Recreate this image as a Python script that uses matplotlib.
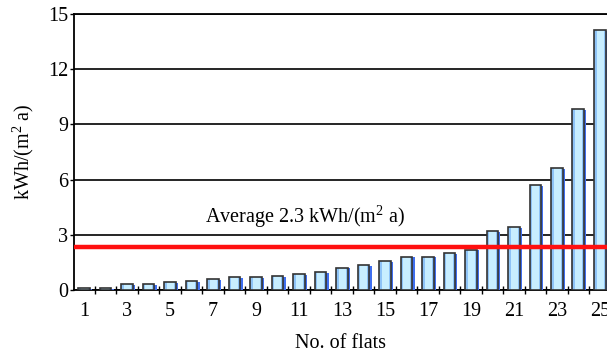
import numpy as np
import matplotlib.pyplot as plt

plt.rcParams['font.family'] = ['Liberation Serif', 'DejaVu Serif']
plt.rcParams['mathtext.fontset'] = 'custom'
plt.rcParams['mathtext.rm'] = 'Liberation Serif'

# data
flats = np.arange(1, 26)
consumption = [0.12, 0.12, 0.33, 0.33, 0.42, 0.48, 0.6, 0.72, 0.72, 0.76,
               0.88, 1.0, 1.22, 1.34, 1.58, 1.82, 1.82, 2.02, 2.2, 3.2,
               3.44, 5.68, 6.62, 9.85, 14.15]
average = 2.35
avg_label = "Average 2.3 kWh/(m$\\mathregular{^2}$ a)"
tick_labels = [str(i) for i in range(1, 26, 2)]

fs = 14.5
fig = plt.figure(figsize=(6.07, 3.53), dpi=100)
ax = fig.add_axes([74/607, 63/353, 1 - 74/607, 276/353])

w = 0.55
# blue shadow on the right side
ax.bar(flats + 0.1, np.array(consumption) - 0.05, width=w, color='#3f6ff0',
       zorder=3)
# body with a simple two-tone shading
ax.bar(flats, consumption, width=w, color='#8ec3f7', zorder=4)
ax.bar(flats + 0.02, consumption, width=w * 0.6, color='#c8eeff', zorder=5)
ax.bar(flats, consumption, width=w, facecolor='none', edgecolor='#333333',
       linewidth=1.2, zorder=6)

ax.axhline(average, color='#ff1010', linewidth=3.2, zorder=7)
ax.text(11.3, 3.95, avg_label, ha='center', va='center', fontsize=fs)

ax.set_xlim(0.535, 25.33)
ax.set_ylim(0, 15)
ax.set_yticks(np.arange(0, 16, 3))
ax.set_xticks(range(1, 26, 2))
ax.set_xticklabels(tick_labels)
ax.set_xticks(np.arange(1.5, 25.5, 1), minor=True)
ax.tick_params(axis='x', which='major', length=0, pad=9, labelsize=fs)
ax.tick_params(axis='x', which='minor', direction='inout', length=6, width=1)
ax.tick_params(axis='y', direction='out', length=3, width=1, labelsize=fs, pad=1)
ax.yaxis.grid(True, color='black', linewidth=1.2)
ax.set_axisbelow(True)

for side in ['left', 'bottom', 'top']:
    ax.spines[side].set_linewidth(1.3)
ax.spines['right'].set_visible(False)

ax.set_xlabel("No. of flats", fontsize=fs, labelpad=9)
ax.set_ylabel("kWh/(m$\\mathregular{^2}$ a)", fontsize=fs, labelpad=9)

fig.savefig("out.png", dpi=100)
